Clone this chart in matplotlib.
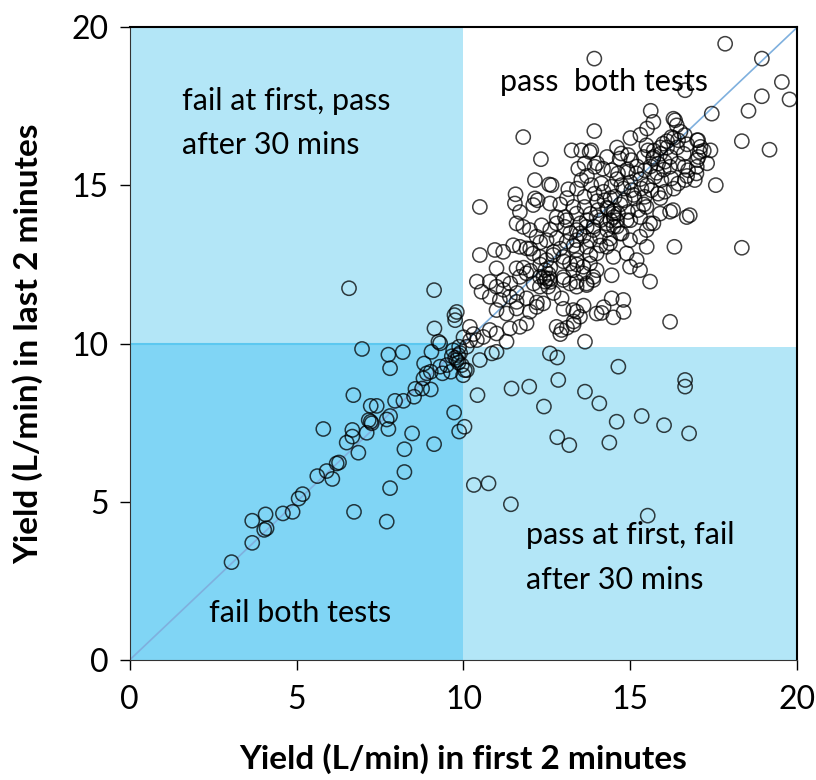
import numpy as np
import matplotlib
matplotlib.use("Agg")
from matplotlib import pyplot as plt
from matplotlib.patches import Rectangle

plt.rcParams['font.family'] = ['Lato', 'DejaVu Sans']

# (first 2 min, last 2 min) yields, L/min
fail_both = [
    (3.05, 3.09), (3.67, 3.70), (3.67, 4.40), (4.07, 4.60), (4.03, 4.11), (4.10, 4.16),
    (4.59, 4.63), (4.88, 4.68), (5.06, 5.10), (5.18, 5.24), (5.62, 5.81), (5.90, 5.97),
    (6.07, 5.72), (6.20, 6.21), (6.27, 6.24), (5.80, 7.30), (6.85, 6.55), (6.50, 6.87),
    (6.67, 7.06), (6.67, 7.27), (7.10, 7.18), (6.70, 8.37), (6.96, 9.83), (7.16, 7.58),
    (7.25, 7.48), (7.22, 7.53), (7.22, 8.03), (7.40, 8.03), (7.70, 7.60), (7.80, 7.71),
    (7.75, 7.30), (7.75, 9.65), (8.18, 9.73), (7.80, 9.22), (7.95, 8.19), (8.20, 8.19),
    (8.52, 8.32), (8.56, 8.57), (8.76, 8.58), (8.80, 8.90), (9.02, 8.55), (8.82, 9.37),
    (9.04, 9.74), (8.90, 9.06), (9.02, 9.11), (9.30, 9.27), (9.37, 9.06), (9.50, 9.32),
    (9.62, 9.11), (9.69, 9.79), (9.84, 9.64), (9.80, 9.48), (9.95, 9.32), (9.87, 9.90),
    (9.72, 7.82), (9.87, 7.22), (9.12, 6.82), (8.46, 7.16), (8.23, 6.66), (8.23, 5.94),
    (7.80, 5.43), (6.72, 4.68), (7.70, 4.37), (9.75, 9.55), (9.90, 9.70), (9.85, 9.40),
    (9.65, 9.60),
]

fail_then_pass = [
    (9.13, 10.48), (9.25, 10.06), (9.30, 10.01), (9.73, 10.90), (9.80, 11.00),
    (9.75, 10.74), (6.57, 11.75), (9.12, 11.69),
]

pass_then_fail = [
    (10.04, 9.16), (9.99, 9.00), (10.10, 9.90), (14.64, 9.27), (12.59, 9.69), (12.81, 9.56),
    (16.64, 8.85), (16.64, 8.64), (10.42, 8.37), (11.44, 8.58), (11.97, 8.64), (12.84, 8.85),
    (13.64, 8.48), (14.07, 8.11), (12.41, 8.01), (14.59, 7.53), (15.34, 7.71), (16.01, 7.42),
    (16.76, 7.16), (12.81, 7.04), (13.17, 6.79), (14.37, 6.87), (10.31, 5.53), (10.75, 5.58),
    (11.42, 4.92), (15.52, 4.56), (10.03, 7.37), (10.49, 9.48), (10.85, 9.69), (10.99, 9.74),
    (10.10, 9.16),
]

pass_both = [
    (10.20, 10.10), (10.30, 10.30), (10.00, 10.20),
    (17.84, 19.48), (13.92, 19.01), (18.94, 19.01), (19.54, 18.27), (19.77, 17.72),
    (18.94, 17.82), (18.54, 17.36), (17.44, 17.27), (16.64, 18.01), (15.61, 17.36),
    (15.69, 17.01), (16.29, 17.11), (16.34, 17.06), (16.39, 16.90), (13.92, 16.72),
    (11.79, 16.53), (18.34, 16.40), (19.17, 16.13), (17.56, 15.01), (18.34, 13.03),
    (16.32, 13.06), (10.49, 14.32), (16.19, 10.69), (13.64, 10.06),
    (13.24, 16.11), (12.32, 15.83), (12.14, 15.17), (12.57, 15.03), (12.64, 15.01),
    (13.14, 14.88), (11.56, 14.72), (11.54, 14.43), (12.14, 14.59), (12.22, 14.53),
    (12.59, 14.43), (12.09, 14.38), (13.44, 15.53), (13.29, 14.32), (12.79, 14.00),
    (13.04, 14.00), (11.69, 14.16),
    (13.83, 16.11), (13.78, 16.06), (15.48, 16.27), (15.53, 16.11), (15.98, 16.32),
    (16.23, 16.53), (16.43, 16.43), (16.63, 16.59), (17.03, 16.43), (17.08, 16.06),
    (14.73, 16.01), (14.93, 15.96), (15.03, 15.80), (14.68, 15.85), (15.68, 15.85),
    (15.83, 15.69), (16.03, 15.75), (16.18, 15.59), (16.43, 15.69), (16.63, 15.59),
    (16.73, 15.48), (16.98, 15.38), (16.93, 15.17), (13.53, 16.11), (13.63, 15.69),
    (13.93, 15.59), (14.18, 15.53), (14.43, 15.48), (14.63, 15.38), (14.93, 15.43),
    (15.18, 15.38), (15.43, 15.48), (15.73, 15.27), (15.93, 15.17), (16.23, 15.22),
    (16.43, 15.06), (16.63, 15.17), (13.53, 15.17), (13.83, 15.01), (14.13, 15.06),
    (14.43, 14.96), (14.73, 15.01), (15.03, 14.85), (15.33, 14.90), (15.63, 14.85),
    (15.83, 14.74), (16.03, 14.80), (13.63, 14.64), (13.93, 14.74), (14.23, 14.53),
    (14.53, 14.64), (14.83, 14.53), (15.13, 14.59), (15.43, 14.64), (15.48, 14.32),
    (16.28, 14.22), (16.78, 14.06), (13.63, 14.32), (14.03, 14.22), (14.33, 14.27),
    (14.63, 14.11), (14.93, 14.16), (15.23, 14.22),
    (10.49, 12.80), (10.94, 12.96), (11.19, 12.90), (11.49, 13.11), (11.69, 13.06),
    (11.89, 13.01), (11.59, 13.80), (11.79, 13.69), (11.99, 13.59), (12.34, 13.74),
    (12.79, 13.80), (13.04, 13.69), (13.39, 13.59), (13.69, 13.69), (13.89, 13.59),
    (12.19, 13.38), (12.49, 13.27), (12.79, 13.33), (13.09, 13.22), (13.39, 13.27),
    (12.09, 12.85), (12.29, 12.74), (12.49, 12.64), (12.69, 12.80), (12.99, 12.74),
    (13.19, 12.53), (13.39, 12.64), (13.59, 12.43), (13.79, 12.53), (13.99, 12.32),
    (10.99, 12.38), (10.40, 11.96), (10.54, 11.64), (10.79, 11.96), (10.99, 11.80),
    (11.19, 12.01), (11.59, 12.38), (11.69, 12.11), (11.89, 12.22), (12.29, 12.11),
    (12.44, 11.96), (12.59, 12.06), (12.54, 11.80), (12.29, 11.80), (12.94, 11.43),
    (12.99, 12.01), (13.19, 11.90), (13.39, 11.96), (13.69, 11.85), (13.89, 12.01),
    (10.79, 11.48), (11.09, 11.38), (11.39, 11.48), (11.59, 11.32), (11.89, 11.43),
    (10.99, 11.06), (11.29, 10.95), (11.59, 11.11), (11.99, 11.01), (12.19, 11.16),
    (12.39, 11.27), (13.29, 11.06), (13.49, 10.85), (13.99, 10.95), (10.19, 10.53),
    (10.79, 10.43), (10.99, 10.32), (11.39, 10.48), (11.69, 10.53), (11.89, 10.64),
    (10.40, 10.11), (10.59, 10.21), (11.29, 10.06), (12.79, 10.53), (12.94, 10.43),
    (14.44, 12.16), (15.59, 11.96), (14.44, 11.43), (14.79, 11.38), (14.14, 10.97),
    (14.49, 10.83), (13.39, 11.01), (13.39, 12.96), (13.69, 13.06), (13.99, 12.85),
    (14.29, 13.06), (14.49, 12.74), (14.89, 12.85), (15.19, 12.64), (14.99, 12.43),
    (15.29, 12.32), (15.49, 13.06), (13.29, 12.32), (13.59, 12.22), (13.89, 12.11),
    (13.39, 11.80), (13.69, 11.90),
    (13.09, 13.90), (13.39, 14.11), (13.69, 13.90), (13.99, 14.00), (14.29, 13.80),
    (14.49, 14.11), (14.89, 13.90), (15.29, 14.00), (15.59, 13.80), (15.89, 14.11),
    (16.69, 14.00), (16.19, 14.17), (13.49, 13.48), (13.79, 13.27), (14.09, 13.38),
    (14.39, 13.17), (14.69, 13.48), (14.99, 13.27), (15.29, 13.38), (15.49, 13.59),
    (15.69, 13.80), (14.39, 13.32), (14.74, 13.48),
    (12.45, 12.32), (12.55, 12.20), (12.50, 12.05), (12.60, 11.95), (12.40, 12.10),
    (13.00, 11.10), (13.60, 11.20), (14.20, 11.15), (14.80, 11.00), (13.30, 10.70),
    (12.90, 10.30), (13.10, 10.50), (13.30, 10.60),
    # densest part of the band along the 1:1 line
    (11.20, 11.70), (11.40, 11.90), (11.60, 11.60), (11.80, 12.40), (12.00, 12.30),
    (12.10, 11.90), (12.30, 12.50), (12.60, 12.40), (12.70, 12.90), (12.90, 13.00),
    (13.00, 12.60), (13.20, 13.50), (13.30, 13.10), (13.50, 13.80), (13.60, 13.40),
    (13.80, 14.10), (13.90, 13.70), (14.00, 14.50), (14.10, 13.90), (14.20, 14.80),
    (14.30, 14.30), (14.40, 14.60), (14.50, 14.00), (14.60, 15.20), (14.70, 14.40),
    (14.80, 14.90), (14.90, 15.50), (15.00, 15.10), (15.10, 14.70), (15.20, 15.60),
    (15.30, 15.20), (15.40, 15.90), (15.50, 15.00), (15.60, 15.60), (15.70, 16.10),
    (15.80, 15.40), (15.90, 16.00), (16.00, 15.50), (16.10, 16.20), (16.20, 15.90),
    (16.30, 16.50), (16.40, 16.20), (16.50, 16.70), (16.60, 16.00), (16.70, 16.30),
    (12.00, 13.00), (12.30, 13.20), (12.60, 13.60), (12.90, 14.40), (13.10, 14.60),
    (13.40, 14.90), (13.70, 15.30), (14.00, 15.70), (14.30, 15.90), (14.60, 16.20),
    (15.00, 16.50), (15.30, 16.60), (15.50, 16.80),
    (12.20, 11.30), (12.70, 11.60), (13.00, 12.10), (13.40, 12.50), (13.80, 12.80),
    (14.10, 13.10), (14.60, 13.70), (15.00, 13.90), (15.40, 14.40), (15.90, 14.60),
    (16.30, 14.90), (16.70, 15.30), (17.00, 15.80), (17.20, 16.10), (17.30, 15.70),
    (14.30, 13.60), (14.50, 13.70), (14.40, 13.90), (14.60, 13.90), (14.50, 14.20),
    (15.70, 15.90), (15.90, 16.20), (16.10, 16.40), (17.00, 16.43), (17.10, 16.22),
    (17.40, 16.11), (17.04, 15.90), (16.99, 15.59),
]

groups = [fail_both, fail_then_pass, pass_then_fail, pass_both]
light_blue = '#b3e6f7'
dark_blue = '#80d5f5'

fig = plt.figure(figsize=(8.16, 7.8), dpi=100)
ax = fig.add_axes([0.159, 0.154, 0.818, 0.811])

# quadrant shading (10 L/min pass mark)
ax.add_patch(Rectangle((0, 0), 10, 10, facecolor=dark_blue, edgecolor='none', zorder=0))
ax.add_patch(Rectangle((0, 10), 10, 10, facecolor=light_blue, edgecolor='none', zorder=0))
ax.add_patch(Rectangle((10, 0), 10, 9.9, facecolor=light_blue, edgecolor='none', zorder=0))
ax.plot([0, 10], [10, 10], color='#5cc8f0', lw=1.5, zorder=1)

ax.plot([0, 20], [0, 20], color='#7fb0de', lw=1.2, zorder=2)

for pts in groups:
    arr = np.array(pts)
    ax.scatter(arr[:, 0], arr[:, 1], s=105, facecolors='none', edgecolors='black',
               linewidths=1.1, alpha=0.75, zorder=3)

ax.set_xlim(0, 20)
ax.set_ylim(0, 20)
ax.set_xticks([0, 5, 10, 15, 20])
ax.set_yticks([0, 5, 10, 15, 20])
ax.tick_params(labelsize=23, length=7, width=1, direction='out')
ax.tick_params(axis='x', pad=11)
ax.tick_params(axis='y', pad=8)
for side in ['top', 'right']:
    ax.spines[side].set_linewidth(1.5)
ax.spines['left'].set_color('#333333')
ax.spines['bottom'].set_color('#333333')

ax.set_xlabel('Yield (L/min) in first 2 minutes', fontsize=24, fontweight='bold')
ax.set_ylabel('Yield (L/min) in last 2 minutes', fontsize=24, fontweight='bold')
ax.xaxis.set_label_coords(0.5, -0.132)
ax.yaxis.set_label_coords(-0.13, 0.5)

ax.text(1.56, 16.98, 'fail at first, pass\nafter 30 mins', fontsize=22, va='center', linespacing=1.72)
ax.text(11.1, 18.26, 'pass  both tests', fontsize=22, va='center')
ax.text(11.87, 3.24, 'pass at first, fail\nafter 30 mins', fontsize=22, va='center', linespacing=1.72)
ax.text(2.37, 1.48, 'fail both tests', fontsize=22, va='center')

fig.savefig('out.png', dpi=100)
